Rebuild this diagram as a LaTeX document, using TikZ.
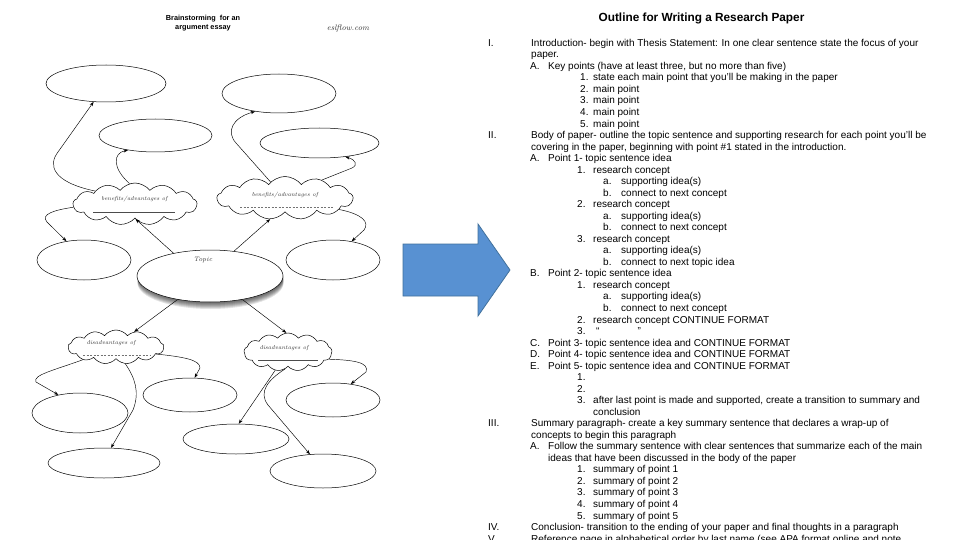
\documentclass[tikz,border=0pt]{standalone}
\usepackage{fontspec}
\newfontfamily\arialfont{Liberation Sans}
\usetikzlibrary{shapes.geometric,shapes.symbols,arrows.meta}
\definecolor{arrowblue}{RGB}{88,145,210}
\definecolor{arrowedge}{RGB}{65,113,156}
\newcommand\olY[1]{46.3+11.53*#1}
\begin{document}
\begin{tikzpicture}[x=1pt,y=-1pt,
  bub/.style={ellipse,draw,line width=0.5pt,inner sep=0pt},
  cld/.style={cloud,draw,line width=0.5pt,cloud puffs=13,cloud puff arc=105,cloud ignores aspect,inner sep=0pt},
  conn/.style={line width=0.45pt,-{Stealth[length=4.5pt,width=3.2pt]}},
  ln/.style={anchor=base west,inner sep=0pt,font=\arialfont\fontsize{10}{11}\selectfont},
  hand/.style={inner sep=0pt,font=\itshape\fontsize{5.8}{6}\selectfont,text=black!80},
  ttl/.style={inner sep=0pt,font=\arialfont\bfseries\fontsize{7.3}{8}\selectfont}]
\useasboundingbox (0,0) rectangle (960,540);
\fill[white] (0,0) rectangle (960,540);

% ---------- left titles
\node[ttl] (lt1) at (203,19) {Brainstorming\ \ for an};
\node[ttl] (lt2) at (203,28) {argument essay};
\node[inner sep=0pt,font=\itshape\fontsize{8}{9}\selectfont,text=black!80] (esl) at (348,29) {eslflow.com};

% ---------- ellipses
\node[bub,minimum width=120pt,minimum height=37pt] (e1) at (106,83.5) {};
\node[bub,minimum width=113pt,minimum height=33pt] (e2) at (155.5,135.5) {};
\node[bub,minimum width=114pt,minimum height=39pt] (e3) at (279,93.5) {};
\node[bub,minimum width=119pt,minimum height=30pt] (e4) at (319.5,143) {};
\node[bub,minimum width=94pt,minimum height=40pt] (e5) at (84,260) {};
\node[bub,minimum width=94pt,minimum height=40pt] (e6) at (333,260) {};
\foreach \s in {1,...,7} \fill[black,opacity=0.11] (210.5,276+\s) ellipse (73 and 26);
\node[bub,fill=white,minimum width=146pt,minimum height=52pt] (topic) at (210,276) {};
\node[bub,minimum width=94pt,minimum height=34pt] (e7) at (190,395) {};
\node[bub,minimum width=96pt,minimum height=40pt] (e8) at (80,413) {};
\node[bub,minimum width=94pt,minimum height=34pt] (e9) at (333,400) {};
\node[bub,minimum width=106pt,minimum height=30pt] (e10) at (236,439) {};
\node[bub,minimum width=112pt,minimum height=30pt] (e11) at (104,463) {};
\node[bub,minimum width=106pt,minimum height=34pt] (e12) at (323,471) {};
\node[hand,font=\itshape\fontsize{6.5}{7}\selectfont] (topict) at (203,260) {Topic};

% ---------- clouds
\node[cld,minimum width=124pt,minimum height=42pt] (c1) at (135,204) {};
\node[cld,minimum width=136pt,minimum height=43pt] (c2) at (285,198) {};
\node[cld,minimum width=96pt,minimum height=34pt] (c3) at (116,347) {};
\node[cld,minimum width=88pt,minimum height=38pt] (c4) at (288,352) {};
\node[hand] (c1t) at (134.5,199) {benefits/advantages of};
\node[hand] (c2t) at (285,195) {benefits/advantages of};
\node[hand] (c3t) at (111,343) {disadvantages of};
\node[hand] (c4t) at (284,348) {disadvantages of};
\draw[line width=0.9pt,black!70] (93,212) -- (175,212);
\draw[line width=0.4pt,black!55,dash pattern=on 2pt off 1.5pt] (240,207) -- (333,207);
\draw[line width=0.4pt,black!55,dash pattern=on 2pt off 1.5pt] (83,355) -- (150,355);
\draw[line width=0.9pt,black!70] (258,360) -- (318,360);

% ---------- connectors
\draw[conn] (c1.162) .. controls (52,182) and (48,165) .. (58,152) -- (e1.236);
\draw[conn] (c1.105) .. controls (112,168) and (113,153) .. (e2.208);
\draw[conn] (c2.132) -- (236,143) .. controls (226,132) and (232,118) .. (e3.217);
\draw[conn] (c2.26) -- (352,168) .. controls (358,165) and (356,160) .. (e4.-28);
\draw[conn] (c1.183) .. controls (55,210) and (40,214) .. (47,222) -- (e5.133);
\draw[conn] (c2.-12) .. controls (362,214) and (370,222) .. (364,230) -- (e6.45);
\draw[conn] (topic.148) -- (c1.-88);
\draw[conn] (topic.46) -- (c2.235);
\draw[conn] (topic.216) -- (c3.40);
\draw[conn] (topic.-36) -- (c4.95);
\draw[conn] (c3.201) .. controls (55,370) and (32,375) .. (36,382) -- (e8.140);
\draw[conn] (c3.-10) .. controls (185,357) and (200,360) .. (200,368) -- (e7.75);
\draw[conn] (c3.-61) .. controls (135,378) and (140,392) .. (133,410) -- (e11.65);
\draw[conn] (c4.-125) -- (e10.80);
\draw[conn] (c4.-100) .. controls (268,380) and (258,392) .. (268,405) -- (e12.128);
\draw[conn] (c4.-10) .. controls (352,360) and (370,362) .. (366,372) -- (e9.42);

% ---------- big arrow
\filldraw[fill=arrowblue,draw=arrowedge,line width=0.8pt]
  (403,244) -- (478,244) -- (478,224) -- (510,270) -- (478,316) -- (478,296) -- (403,296) -- cycle;

% ---------- outline
\node[inner sep=0pt,font=\arialfont\bfseries\fontsize{11.8}{13}\selectfont] (otitle) at (701.5,18) {Outline for Writing a Research Paper};

\node[ln] (r0) at (488,{\olY{0}}) {I.};
\node[ln] (t0) at (531,{\olY{0}}) {Introduction- begin with Thesis Statement: In one clear sentence state the focus of your};
\node[ln] (t1) at (531,{\olY{1}}) {paper.};
\node[ln] (a2) at (530,{\olY{2}}) {A.};
\node[ln] (t2) at (548,{\olY{2}}) {Key points (have at least three, but no more than five)};
\node[ln] (n3) at (580,{\olY{3}}) {1.};
\node[ln] (t3) at (593,{\olY{3}}) {state each main point that you’ll be making in the paper};
\node[ln] (n4) at (580,{\olY{4}}) {2.};
\node[ln] (t4) at (593,{\olY{4}}) {main point};
\node[ln] (n5) at (580,{\olY{5}}) {3.};
\node[ln] (t5) at (593,{\olY{5}}) {main point};
\node[ln] (n6) at (580,{\olY{6}}) {4.};
\node[ln] (t6) at (593,{\olY{6}}) {main point};
\node[ln] (n7) at (580,{\olY{7}}) {5.};
\node[ln] (t7) at (593,{\olY{7}}) {main point};

\node[ln] (r8) at (488,{\olY{8}}) {II.};
\node[ln] (t8) at (531,{\olY{8}}) {Body of paper- outline the topic sentence and supporting research for each point you’ll be};
\node[ln] (t9) at (531,{\olY{9}}) {covering in the paper, beginning with point \#1 stated in the introduction.};
\node[ln] (a10) at (530,{\olY{10}}) {A.};
\node[ln] (t10) at (548,{\olY{10}}) {Point 1- topic sentence idea};
\node[ln] (n11) at (577,{\olY{11}}) {1.};
\node[ln] (t11) at (593,{\olY{11}}) {research concept};
\node[ln] (l12) at (603,{\olY{12}}) {a.};
\node[ln] (t12) at (621,{\olY{12}}) {supporting idea(s)};
\node[ln] (l13) at (603,{\olY{13}}) {b.};
\node[ln] (t13) at (621,{\olY{13}}) {connect to next concept};
\node[ln] (n14) at (577,{\olY{14}}) {2.};
\node[ln] (t14) at (593,{\olY{14}}) {research concept};
\node[ln] (l15) at (603,{\olY{15}}) {a.};
\node[ln] (t15) at (621,{\olY{15}}) {supporting idea(s)};
\node[ln] (l16) at (603,{\olY{16}}) {b.};
\node[ln] (t16) at (621,{\olY{16}}) {connect to next concept};
\node[ln] (n17) at (577,{\olY{17}}) {3.};
\node[ln] (t17) at (593,{\olY{17}}) {research concept};
\node[ln] (l18) at (603,{\olY{18}}) {a.};
\node[ln] (t18) at (621,{\olY{18}}) {supporting idea(s)};
\node[ln] (l19) at (603,{\olY{19}}) {b.};
\node[ln] (t19) at (621,{\olY{19}}) {connect to next topic idea};
\node[ln] (a20) at (530,{\olY{20}}) {B.};
\node[ln] (t20) at (548,{\olY{20}}) {Point 2- topic sentence idea};
\node[ln] (n21) at (577,{\olY{21}}) {1.};
\node[ln] (t21) at (593,{\olY{21}}) {research concept};
\node[ln] (l22) at (603,{\olY{22}}) {a.};
\node[ln] (t22) at (621,{\olY{22}}) {supporting idea(s)};
\node[ln] (l23) at (603,{\olY{23}}) {b.};
\node[ln] (t23) at (621,{\olY{23}}) {connect to next concept};
\node[ln] (n24) at (577,{\olY{24}}) {2.};
\node[ln] (t24) at (593,{\olY{24}}) {research concept CONTINUE FORMAT};
\node[ln] (n25) at (577,{\olY{25}}) {3.};
\node[ln] (t25) at (596,{\olY{25}}) {“\hspace{38pt}”};
\node[ln] (a26) at (530,{\olY{26}}) {C.};
\node[ln] (t26) at (548,{\olY{26}}) {Point 3- topic sentence idea and CONTINUE FORMAT};
\node[ln] (a27) at (530,{\olY{27}}) {D.};
\node[ln] (t27) at (548,{\olY{27}}) {Point 4- topic sentence idea and CONTINUE FORMAT};
\node[ln] (a28) at (530,{\olY{28}}) {E.};
\node[ln] (t28) at (548,{\olY{28}}) {Point 5- topic sentence idea and CONTINUE FORMAT};
\node[ln] (n29) at (577,{\olY{29}}) {1.};
\node[ln] (n30) at (577,{\olY{30}}) {2.};
\node[ln] (n31) at (577,{\olY{31}}) {3.};
\node[ln] (t31) at (593,{\olY{31}}) {after last point is made and supported, create a transition to summary and};
\node[ln] (t32) at (593,{\olY{32}}) {conclusion};

\node[ln] (r33) at (488,{\olY{33}}) {III.};
\node[ln] (t33) at (531,{\olY{33}}) {Summary paragraph- create a key summary sentence that declares a wrap-up of};
\node[ln] (t34) at (531,{\olY{34}}) {concepts to begin this paragraph};
\node[ln] (a35) at (530,{\olY{35}}) {A.};
\node[ln] (t35) at (548,{\olY{35}}) {Follow the summary sentence with clear sentences that summarize each of the main};
\node[ln] (t36) at (548,{\olY{36}}) {ideas that have been discussed in the body of the paper};
\node[ln] (n37) at (577,{\olY{37}}) {1.};
\node[ln] (t37) at (593,{\olY{37}}) {summary of point 1};
\node[ln] (n38) at (577,{\olY{38}}) {2.};
\node[ln] (t38) at (593,{\olY{38}}) {summary of point 2};
\node[ln] (n39) at (577,{\olY{39}}) {3.};
\node[ln] (t39) at (593,{\olY{39}}) {summary of point 3};
\node[ln] (n40) at (577,{\olY{40}}) {4.};
\node[ln] (t40) at (593,{\olY{40}}) {summary of point 4};
\node[ln] (n41) at (577,{\olY{41}}) {5.};
\node[ln] (t41) at (593,{\olY{41}}) {summary of point 5};
\node[ln] (r42) at (488,{\olY{42}}) {IV.};
\node[ln] (t42) at (531,{\olY{42}}) {Conclusion- transition to the ending of your paper and final thoughts in a paragraph};
\node[ln] (r43) at (488,{\olY{43}}) {V.};
\node[ln] (t43) at (531,{\olY{43}}) {Reference page in alphabetical order by last name (see APA format online and note};
\end{tikzpicture}
\end{document}
